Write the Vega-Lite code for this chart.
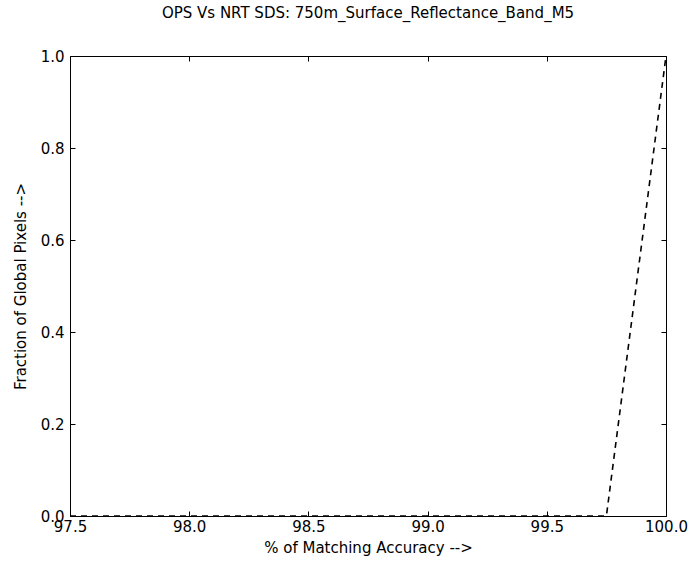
{
  "$schema": "https://vega.github.io/schema/vega-lite/v6.json",
  "width": 596,
  "height": 460,
  "padding": {"left": 70, "top": 56, "right": 29, "bottom": 53},
  "autosize": {"type": "none"},
  "background": "white",
  "config": {
    "font": "DejaVu Sans",
    "view": {"stroke": "black", "strokeWidth": 1},
    "axis": {"grid": false, "domain": false, "tickColor": "black", "labelColor": "black", "titleColor": "black", "labelFontSize": 15, "titleFontSize": 15, "titleFontWeight": "normal", "tickSize": -5, "labelPadding": 11, "labelFont": "DejaVu Sans", "titleFont": "DejaVu Sans"}
  },
  "title": {"text": "OPS Vs NRT SDS: 750m_Surface_Reflectance_Band_M5", "fontSize": 15, "fontWeight": "normal", "font": "DejaVu Sans", "color": "black", "offset": 28},
  "data": {"values": [
    {"x": 97.5, "y": 0},
    {"x": 99.75, "y": 0},
    {"x": 100.0, "y": 1}
  ]},
  "layer": [
    {
      "mark": {"type": "line", "color": "black", "strokeWidth": 1.6, "strokeDash": [6, 5], "clip": false},
      "encoding": {
        "x": {"field": "x", "type": "quantitative", "scale": {"domain": [97.5, 100], "nice": false, "zero": false},
              "axis": {"title": "% of Matching Accuracy -->", "values": [97.5, 98.0, 98.5, 99.0, 99.5, 100.0], "format": ".1f", "labelPadding": 8, "titlePadding": 6, "labelFlush": false}},
        "y": {"field": "y", "type": "quantitative", "scale": {"domain": [0, 1], "nice": false},
              "axis": {"title": "Fraction of Global Pixels -->", "values": [0, 0.2, 0.4, 0.6, 0.8, 1.0], "format": ".1f", "titlePadding": 12, "labelFlush": false}}
      }
    },
    {
      "mark": {"type": "point", "opacity": 0},
      "encoding": {
        "x": {"field": "x", "type": "quantitative", "axis": {"orient": "top", "labels": false, "title": null, "values": [97.5, 98.0, 98.5, 99.0, 99.5, 100.0]}},
        "y": {"field": "y", "type": "quantitative", "axis": {"orient": "right", "labels": false, "title": null, "values": [0, 0.2, 0.4, 0.6, 0.8, 1.0]}}
      }
    }
  ],
  "resolve": {"axis": {"x": "independent", "y": "independent"}}
}
